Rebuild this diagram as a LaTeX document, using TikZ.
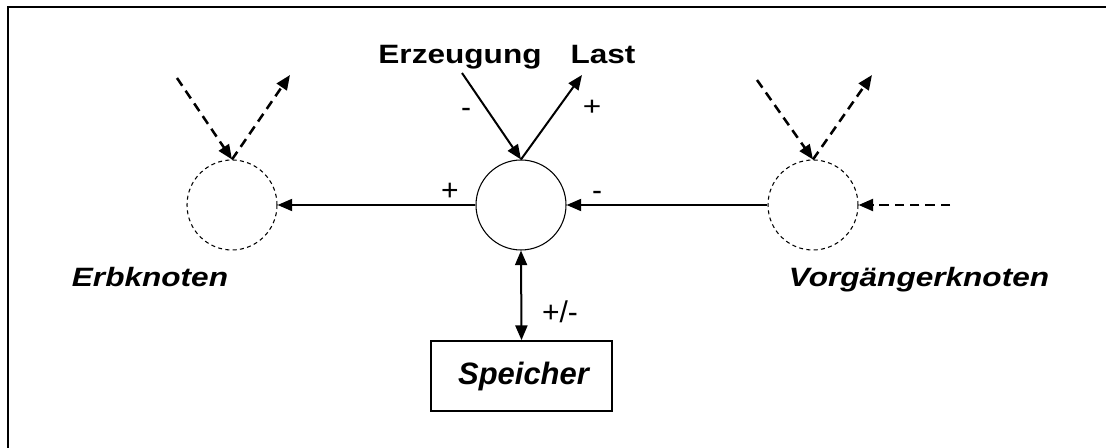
\documentclass[tikz,border=0pt]{standalone}
\usepackage{fontspec}
\setmainfont{Liberation Sans}
\usepackage{graphicx}
\usetikzlibrary{arrows.meta}
\newcommand\hs[1]{\scalebox{1.19}[1]{#1}}
\tikzset{
  hub/.style={circle, draw, line width=0.8pt, minimum size=67.5pt, inner sep=0pt},
  nb/.style={circle, draw, line width=0.8pt, dash pattern=on 3pt off 2.5pt, minimum size=67.5pt, inner sep=0pt},
  solidarr/.style={line width=1.5pt, -{Triangle[length=11pt,width=9pt]}},
  dasharr/.style={line width=1.9pt, dash pattern=on 7pt off 4.5pt, -{Triangle[length=11pt,width=9pt]}},
  txt/.style={inner sep=0pt, anchor=base, font=\fontsize{19.9}{24}\selectfont},
  stxt/.style={inner sep=0pt, anchor=base, font=\fontsize{22.5}{27}\selectfont},
  btxt/.style={txt, font=\fontsize{19.9}{24}\selectfont\bfseries},
  itxt/.style={txt, font=\fontsize{19.9}{24}\selectfont\bfseries\itshape},
  bigitxt/.style={txt, font=\fontsize{23.2}{28}\selectfont\bfseries\itshape},
  box/.style={draw, line width=1.3pt, minimum width=135.75pt, minimum height=52.5pt, inner sep=0pt}
}
\begin{document}
\begin{tikzpicture}[x=0.75pt,y=-0.75pt]
\useasboundingbox (0,0) rectangle (1106,448);
% frame
\coordinate (f0) at (8,7);
\coordinate (f1) at (1106,7);
\coordinate (f2) at (8,448);
\draw[line width=1.9pt] (f1) -- (f0) -- (f2);

% nodes
\node[hub] (c) at (521,205) {};
\node[nb] (l) at (232,205) {};
\node[nb] (r) at (813,205) {};
\node[box] (s) at (521.5,376) {};
\node[bigitxt] (st) at (523.5,385) {Speicher};

% labels
\node[btxt] (erz) at (460,64) {\hs{Erzeugung}};
\node[btxt] (last) at (603,64) {\hs{Last}};
\node[itxt] (erb) at (150,287) {\hs{Erbknoten}};
\node[itxt] (vor) at (919,287) {\hs{Vorgängerknoten}};
\node[stxt] (m1) at (466,118) {-};
\node[txt] (p1) at (592,116) {\hs{+}};
\node[stxt] (p2) at (450,201) {+};
\node[stxt] (m2) at (597,201) {-};
\node[stxt] (pm) at (560,323) {+/-};

% main connectors
\coordinate (eS) at (462,73);
\coordinate (lE) at (582,75);
\draw[solidarr] (eS) -- (c.north);
\draw[solidarr] (c.north) -- (lE);
\draw[solidarr] (c.west) -- (l.east);
\draw[solidarr] (r.west) -- (c.east);
\draw[line width=1.5pt, {Triangle[length=11pt,width=9pt]}-{Triangle[length=11pt,width=9pt]}] (c.south) -- (s.north);

% dashed connectors
\coordinate (lin) at (177,78);
\coordinate (lout) at (290,75);
\coordinate (rin) at (757,80);
\coordinate (rout) at (872,75);
\coordinate (rside) at (950,205);
\draw[dasharr] (lin) -- (l.north);
\draw[dasharr] (l.north) -- (lout);
\draw[dasharr] (rin) -- (r.north);
\draw[dasharr] (r.north) -- (rout);
\draw[dasharr] (rside) -- (r.east);
\end{tikzpicture}
\end{document}
